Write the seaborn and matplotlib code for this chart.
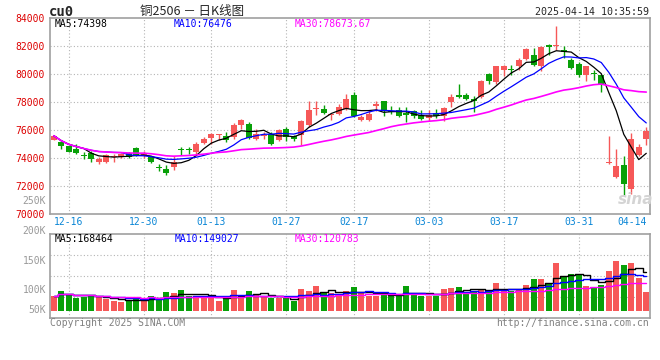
import numpy as np
import pandas as pd
import matplotlib
matplotlib.use('Agg')
import matplotlib.pyplot as plt
import seaborn as sns

# 交易日 (2024-12-12 ~ 2025-04-14)
dates = ['12-12', '12-13', '12-16', '12-17', '12-18', '12-19', '12-20', '12-23', '12-24', '12-25',
         '12-26', '12-27', '12-30', '12-31', '01-02', '01-03', '01-06', '01-07', '01-08', '01-09',
         '01-10', '01-13', '01-14', '01-15', '01-16', '01-17', '01-20', '01-21', '01-22', '01-23',
         '01-24', '01-27', '02-05', '02-06', '02-07', '02-10', '02-11', '02-12', '02-13', '02-14',
         '02-17', '02-18', '02-19', '02-20', '02-21', '02-24', '02-25', '02-26', '02-27', '02-28',
         '03-03', '03-04', '03-05', '03-06', '03-07', '03-10', '03-11', '03-12', '03-13', '03-14',
         '03-17', '03-18', '03-19', '03-20', '03-21', '03-24', '03-25', '03-26', '03-27', '03-28',
         '03-31', '04-01', '04-02', '04-03', '04-07', '04-08', '04-09', '04-10', '04-11', '04-14']

opens = [75290, 75140, 74810, 74620, 74120, 74310, 73720, 73720, 74070, 74030,
         74330, 74670, 74100, 74030, 73330, 73190, 73310, 74600, 74600, 74380,
         75070, 75400, 75620, 75550, 75480, 76360, 76430, 75360, 75580, 75720,
         75240, 76070, 75550, 75600, 76310, 77480, 77500, 77020, 77140, 77450,
         78500, 76720, 76720, 77670, 78020, 77360, 77430, 77190, 77360, 77070,
         76830, 77190, 76950, 77950, 78500, 78500, 78190, 78330, 79980, 79380,
         80240, 80310, 80520, 81050, 81360, 80520, 82070, 81980, 81710, 81000,
         80710, 79930, 79980, 79930, 73600, 72600, 73450, 71770, 74200, 75320]
highs = [75620, 75215, 74860, 74980, 74380, 74500, 74020, 74280, 74280, 74330,
         74400, 74790, 74500, 74140, 73550, 73480, 74100, 74740, 74740, 75100,
         75480, 75790, 75720, 75830, 76480, 76790, 76550, 76020, 75830, 75830,
         76070, 76190, 75600, 76670, 78020, 78020, 77790, 77140, 77860, 78550,
         78670, 77070, 77430, 78020, 78020, 77710, 77620, 77620, 77430, 77380,
         77430, 77480, 77620, 78570, 79290, 78620, 78380, 79520, 80050, 80570,
         80640, 80640, 81120, 81830, 81830, 82000, 82140, 83380, 82000, 81120,
         80810, 80520, 80290, 79930, 75530, 74650, 74100, 75760, 74960, 76200]
lows = [75280, 74620, 74380, 74260, 73900, 73670, 73550, 73600, 73720, 73980,
        74000, 74100, 74000, 73620, 73080, 72760, 73140, 74190, 74260, 74260,
        75000, 75000, 75240, 75120, 75360, 76020, 75360, 75240, 75360, 74930,
        75170, 75190, 75170, 74880, 76190, 77020, 77140, 76670, 77020, 77380,
        76900, 76600, 76600, 77310, 77000, 77140, 76900, 76520, 76830, 76710,
        76600, 76830, 76600, 77620, 78260, 78140, 77240, 78260, 79290, 79290,
        79810, 79930, 80290, 80950, 80520, 80170, 81360, 81670, 81120, 80330,
        79760, 79450, 79570, 78670, 73570, 72550, 71310, 71400, 74150, 74890]
closes = [75570, 74860, 74430, 74330, 74100, 73900, 73900, 74190, 74120, 74260,
          74050, 74190, 74330, 73720, 73300, 72900, 73720, 74570, 74570, 74980,
          75360, 75710, 75660, 75240, 76360, 76670, 75430, 75720, 75620, 75000,
          76000, 75480, 75360, 76600, 77380, 77500, 77210, 77100, 77620, 78180,
          77000, 76910, 77120, 77860, 77310, 77240, 76950, 77070, 77000, 76790,
          77070, 77000, 77550, 78310, 78310, 78220, 78020, 79450, 79450, 80520,
          80570, 80260, 80950, 81760, 80640, 81900, 81900, 82000, 81520, 80400,
          79930, 80520, 79950, 79220, 73640, 73430, 72120, 75360, 74770, 75890]
volumes = [64000, 88000, 70000, 58000, 59000, 69000, 59000, 54000, 44000, 38000,
           44000, 58000, 52000, 66000, 51000, 81000, 79000, 92000, 63000, 65000,
           61000, 61000, 45000, 53000, 92000, 70000, 88000, 74000, 60000, 55000,
           55000, 55000, 44000, 97000, 88000, 110000, 78000, 77000, 72000, 87000,
           105000, 77000, 66000, 66000, 72000, 66000, 72000, 109000, 72000, 66000,
           66000, 66000, 96000, 102000, 105000, 84000, 87000, 92000, 92000, 122000,
           87000, 87000, 95000, 114000, 140000, 140000, 121000, 210000, 154000, 163000,
           158000, 111000, 99000, 114000, 176000, 222000, 202000, 210000, 143000, 84000]

tick_dates = ['12-16', '12-30', '01-13', '01-27', '02-17', '03-03', '03-17', '03-31', '04-14']
price_ticks = [70000, 72000, 74000, 76000, 78000, 80000, 82000, 84000]
vol_labels = ['250K', '200K', '150K', '100K', '50K']
price_ma_text = ['MA5:74398', 'MA10:76476', 'MA30:78673.67']
vol_ma_text = ['MA5:168464', 'MA10:149027', 'MA30:120783']

RED = '#f65858'
GREEN = '#08a008'
MA_COLORS = ['black', '#0000ff', '#ff00ff']
GRAY = '#a0a0a0'

df = pd.DataFrame({'k': range(len(dates)), 'date': dates, 'open': opens, 'high': highs,
                   'low': lows, 'close': closes, 'volume': volumes})
df['dir'] = np.where(df['close'] >= df['open'], 'up', 'down')
for w in (5, 10, 30):
    df[f'ma{w}'] = df['close'].rolling(w, min_periods=1).mean()
    df[f'vma{w}'] = df['volume'].rolling(w, min_periods=1).mean()
palette = {'up': RED, 'down': GREEN}

sns.set_theme(style='white')
plt.rcParams['font.family'] = ['DejaVu Sans Mono']

W, H = 660, 360


def px(x, y):
    return x / W, 1 - y / H


fig = plt.figure(figsize=(W / 100, H / 100), dpi=100)
ax = fig.add_axes([50 / W, 1 - 213.7 / H, 599.5 / W, 196 / H])
axv = fig.add_axes([50 / W, 1 - 318.3 / H, 599.5 / W, 84 / H])

tick_pos = [dates.index(d) for d in tick_dates]
grid_kw = dict(color='#b4b4b4', lw=0.8, linestyle=(0, (1, 2)), zorder=0)

# K线
colors = df['dir'].map(palette)
body_bottom = np.minimum(df['open'], df['close'])
body_h = np.maximum((df['close'] - df['open']).abs(), 70)
ax.vlines(df['k'], df['low'], df['high'], colors=colors, lw=1, zorder=2)
ax.bar(df['k'], body_h, bottom=body_bottom, width=0.76, color=colors, lw=0, zorder=3)
for w, c, lw in zip((5, 10, 30), MA_COLORS, (0.9, 0.9, 1.2)):
    sns.lineplot(data=df, x='k', y=f'ma{w}', color=c, lw=lw, ax=ax, zorder=4)

ax.set_xlim(-0.5, 79.43)
ax.set_ylim(70000, 84000)
ax.set_yticks(price_ticks)
ax.set_xticks(tick_pos, labels=tick_dates)
for y in price_ticks[1:-1]:
    ax.axhline(y, **grid_kw)
for x in tick_pos[:-1]:
    ax.axvline(x, **grid_kw)
ax.tick_params(axis='x', length=0, pad=2.2, labelsize=7, labelcolor='#0a86d6')
ax.tick_params(axis='y', length=0, pad=3.5, labelsize=7, labelcolor='#dd0000')
ax.get_xticklabels()[-1].set_ha('right')
ax.set_xlabel('')
ax.set_ylabel('')

# 成交量
sns.barplot(data=df, x='k', y='volume', hue='dir', palette=palette, dodge=False,
            saturation=1, width=0.8, linewidth=0, legend=False, ax=axv, zorder=2)
for w, c in zip((5, 10, 30), MA_COLORS):
    sns.lineplot(data=df, x='k', y=f'vma{w}', color=c, lw=1.0, drawstyle='steps-mid',
                 ax=axv, zorder=4)
axv.set_xlim(-0.5, 79.43)
axv.set_ylim(-33700, 338700)
lo, hi = axv.get_ylim()
for f in (0.25, 0.5, 0.75):
    axv.axhline(lo + f * (hi - lo), **grid_kw)
for x in tick_pos[:-1]:
    axv.axvline(x, **grid_kw)
axv.set_xticks([])
axv.set_yticks([])
axv.set_xlabel('')
axv.set_ylabel('')

for a in (ax, axv):
    for s in a.spines.values():
        s.set_color(GRAY)
        s.set_linewidth(1.2)
        s.set_visible(True)

# 文字
fig.text(*px(49, 12), 'cu0', fontsize=10, fontweight='bold', va='center', ha='left')
fig.text(*px(140, 11), '铜2506 － 日K线图', fontsize=9, va='center', ha='left',
         family=['Noto Sans CJK SC', 'DejaVu Sans'])
fig.text(*px(649, 12.3), '2025-04-14 10:35:59', fontsize=7.2, va='center', ha='right')
for t, c, x in zip(price_ma_text, MA_COLORS, (55, 174, 295)):
    fig.text(*px(x, 24), t, fontsize=7, color=c, va='center', ha='left')
for t, c, x in zip(vol_ma_text, MA_COLORS, (55, 175, 295)):
    fig.text(*px(x, 238.7), t, fontsize=7, color=c, va='center', ha='left')
for t, y in zip(vol_labels, (200.7, 230.7, 261, 290, 310)):
    fig.text(*px(46, y), t, fontsize=7, color='#999999', va='center', ha='right')
fig.text(*px(50, 323.5), 'Copyright 2025 SINA.COM', fontsize=7, color='#808080', va='center', ha='left')
fig.text(*px(649, 323.5), 'http://finance.sina.com.cn', fontsize=7, color='#808080',
         va='center', ha='right')
fig.text(*px(636, 199), 'sina', fontsize=11, fontstyle='italic', fontweight='bold',
         color='#d4d4d4', va='center', ha='center', family=['DejaVu Sans'])

fig.savefig('out.png', dpi=100)
plt.close(fig)
